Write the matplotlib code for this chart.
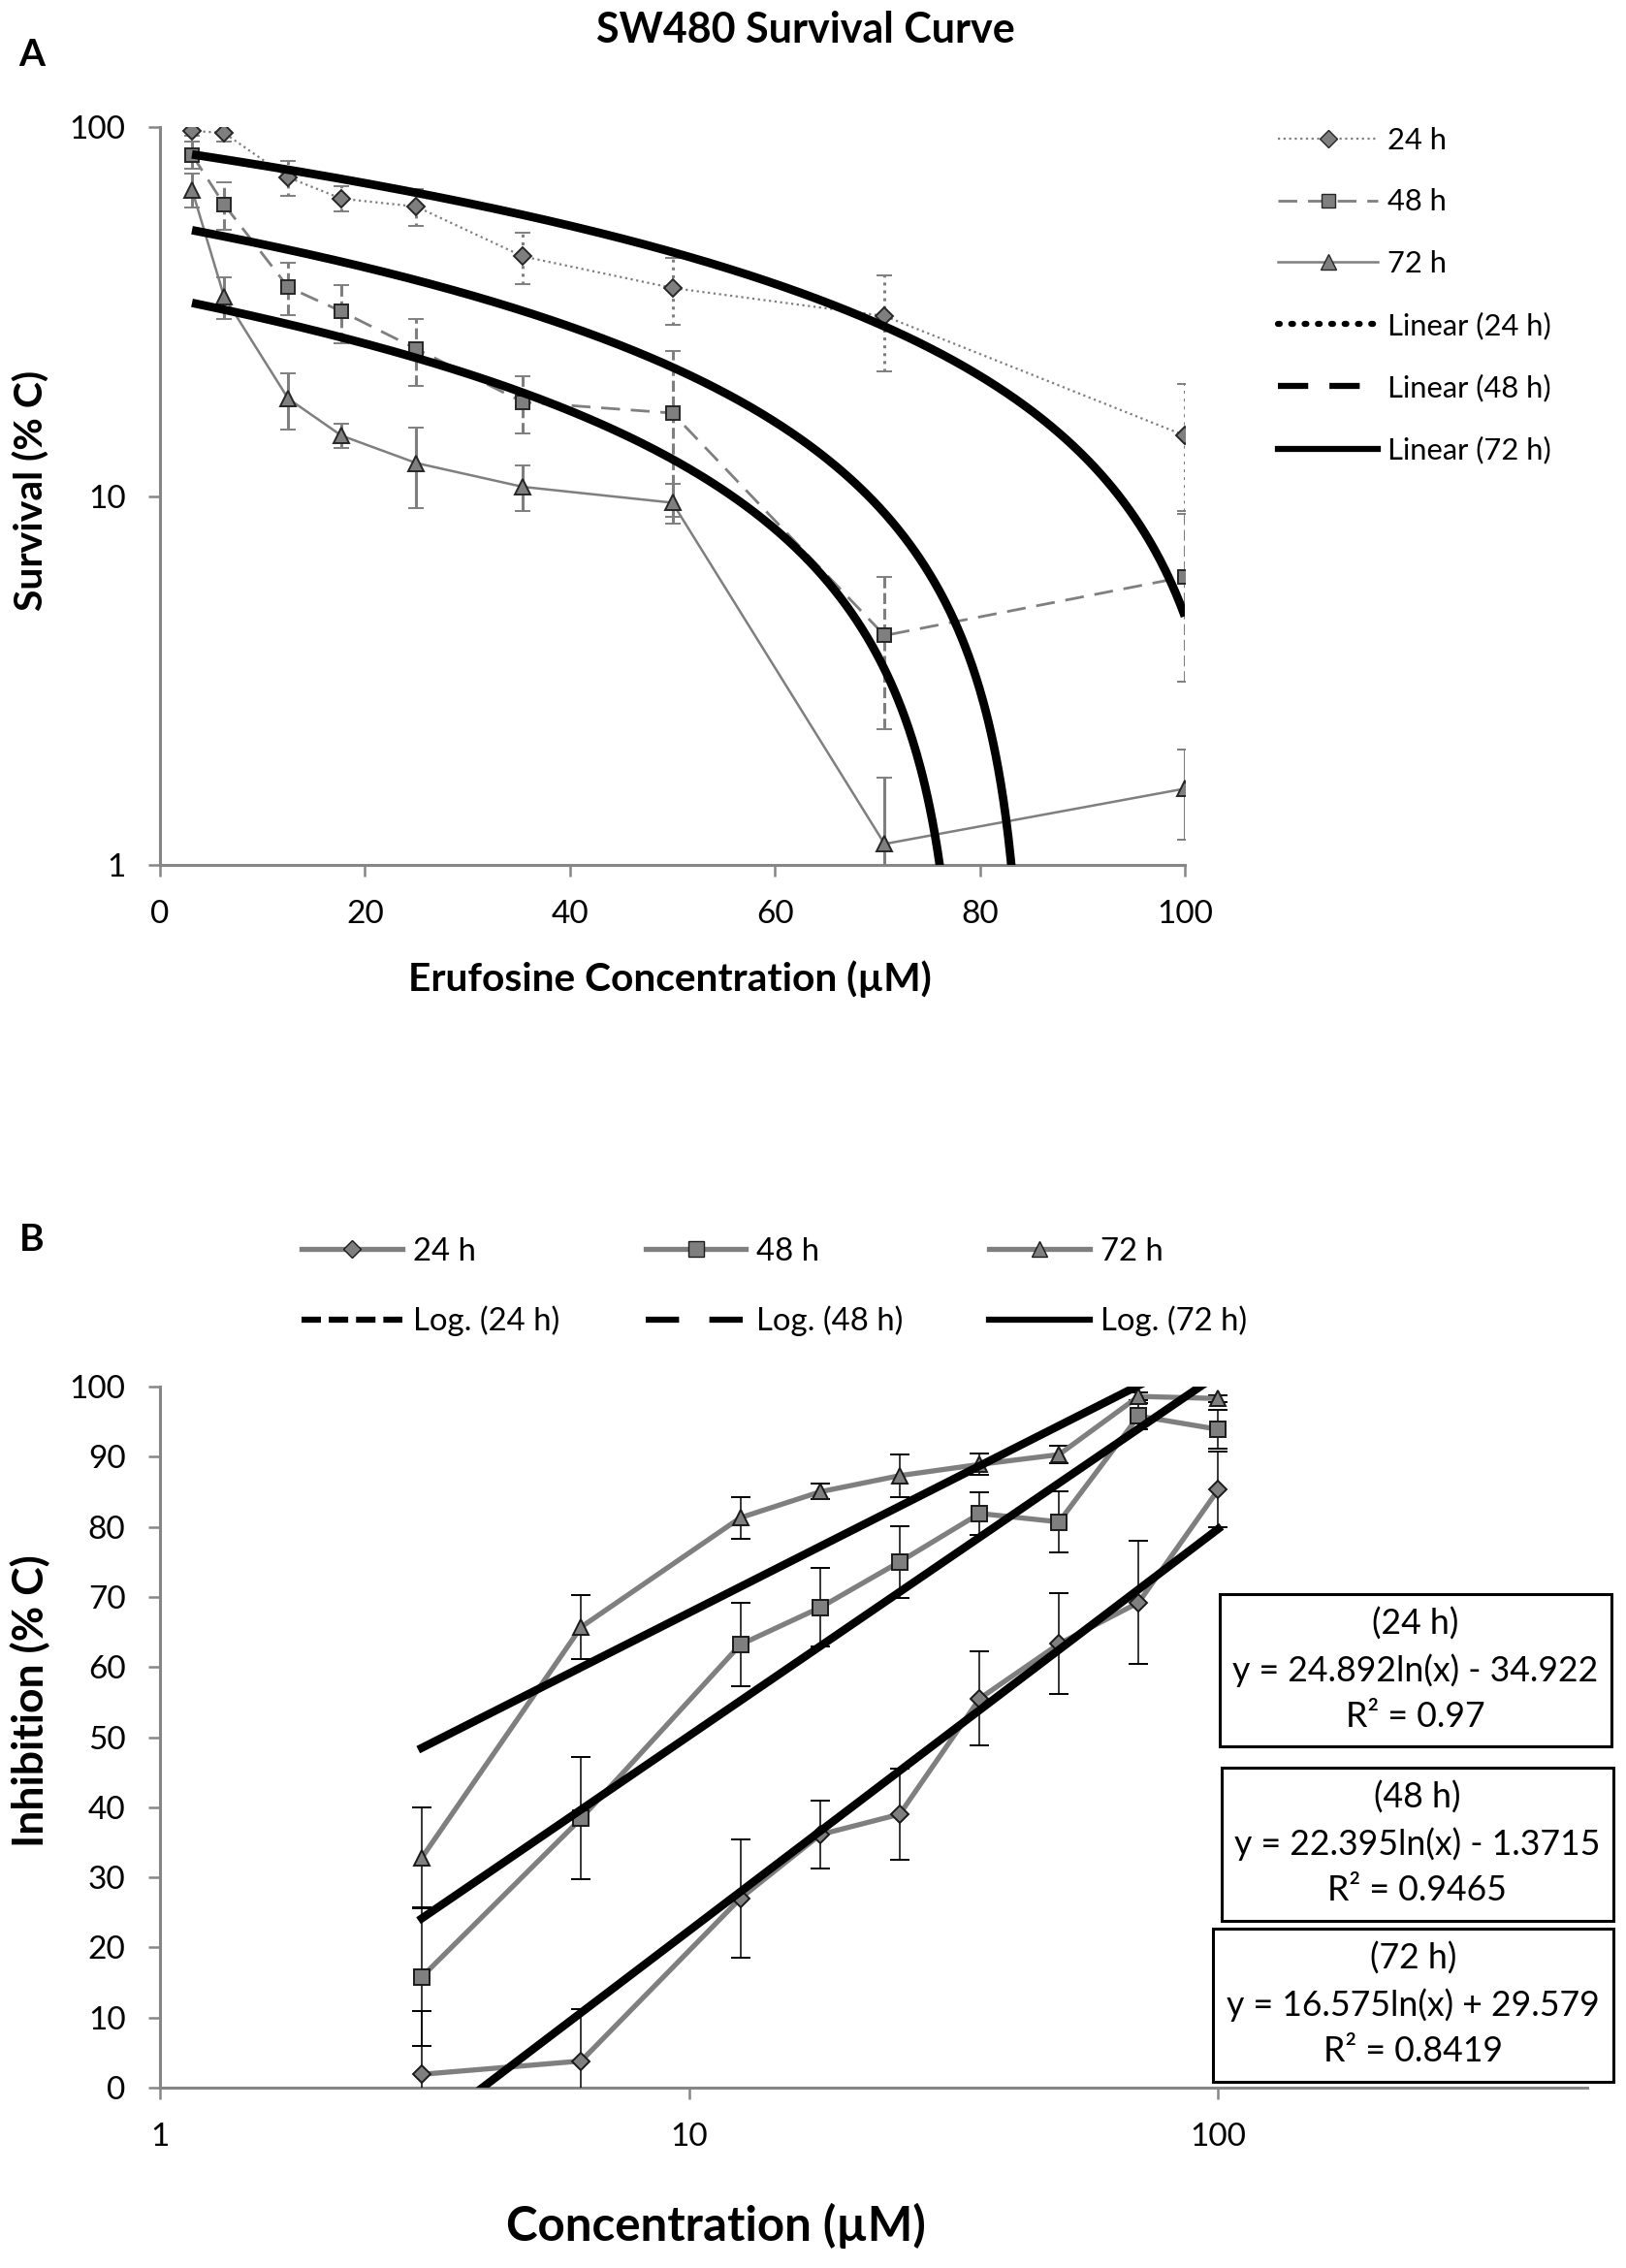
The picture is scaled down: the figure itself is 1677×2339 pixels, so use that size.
import numpy as np
import matplotlib
matplotlib.use("Agg")
import matplotlib.pyplot as plt
from matplotlib.lines import Line2D
from matplotlib.patches import Rectangle
from matplotlib.ticker import FixedLocator, FuncFormatter, NullLocator

plt.rcParams['font.family'] = ['Lato', 'DejaVu Sans']

# concentraciones (uM)
conc = [3.125, 6.25, 12.5, 17.7, 25, 35.4, 50, 70.7, 100]

# panel A - supervivencia (% C)
surv_24 = [97.9, 96.6, 73.2, 64.1, 61.0, 44.7, 36.7, 30.8, 14.6]
surv_24_err = [3.0, 5.0, 8.0, 5.0, 7.0, 7.0, 7.5, 9.0, 5.5]
surv_48 = [84.3, 61.8, 36.9, 31.7, 25.1, 18.0, 16.8, 4.19, 6.04]
surv_48_err = [7.0, 9.0, 6.0, 5.7, 5.2, 3.2, 8.0, 1.85, 2.9]
surv_72 = [67.8, 34.8, 18.4, 14.6, 12.3, 10.6, 9.6, 1.14, 1.61]
surv_72_err = [7.0, 4.5, 3.2, 1.1, 3.0, 1.5, 1.2, 0.58, 0.44]

# panel B - inhibicion (% C)
inh_24 = [1.9, 3.8, 27.0, 36.1, 39.0, 55.5, 63.3, 69.2, 85.3]
inh_24_err = [9.0, 7.4, 8.4, 4.8, 6.5, 6.7, 7.2, 8.8, 5.4]
inh_48 = [15.8, 38.4, 63.2, 68.5, 75.0, 81.9, 80.7, 95.8, 93.9]
inh_48_err = [9.9, 8.7, 6.0, 5.6, 5.1, 3.0, 4.3, 1.9, 2.8]
inh_72 = [32.8, 65.7, 81.3, 85.0, 87.3, 88.9, 90.3, 98.6, 98.3]
inh_72_err = [7.2, 4.6, 3.0, 1.1, 3.0, 1.5, 1.2, 0.6, 0.45]

# ajustes logaritmicos del panel B (del recuadro)
fit_times = ['24 h', '48 h', '72 h']
fit_slope = [24.892, 22.395, 16.575]
fit_icept = [-34.922, -1.3715, 29.579]
fit_r2 = ['0.97', '0.9465', '0.8419']

W, H = 1677, 2339
fig = plt.figure(figsize=(W / 100, H / 100), dpi=100)

def fx(px):
    return px / W

def fy(py):
    return 1 - py / H

def fit_size(txts, target_px):
    # ajusta el tamaño de letra para que el primer texto mida target_px
    fig.canvas.draw()
    bb = txts[0].get_window_extent()
    k = target_px / max(bb.width, bb.height)
    for t in txts:
        t.set_fontsize(t.get_fontsize() * k)

GRAY = '#7f7f7f'
SPINE = '#868686'

def style_axes(ax):
    for s in ['top', 'right']:
        ax.spines[s].set_visible(False)
    for s in ['left', 'bottom']:
        ax.spines[s].set_color(SPINE)
        ax.spines[s].set_linewidth(2.2)
    ax.tick_params(axis='both', which='major', direction='out', length=8.6,
                   width=1.8, color=SPINE, labelsize=24, pad=17)
    ax.tick_params(axis='both', which='minor', length=0)

# ---------------- Panel A ----------------
axA = fig.add_axes([fx(165), fy(892), fx(1222) - fx(165), fy(131.4) - fy(892)])
series_a = [
    (surv_24, surv_24_err, 'D', 9, (0, (1, 1.6)), 1.6, ':'),
    (surv_48, surv_48_err, 's', 10, (0, (7, 4)), 2.0, '--'),
    (surv_72, surv_72_err, '^', 11, '-', 1.8, '-'),
]
for vals, err, mk, ms, ls, lw, els in series_a:
    line, caps, bars = axA.errorbar(conc, vals, yerr=err, marker=mk, markersize=ms,
                                    color=GRAY, mfc=GRAY, mec='#262626', mew=1.4,
                                    linestyle=ls, linewidth=lw, ecolor=GRAY,
                                    elinewidth=2.2, capsize=6, capthick=2.2, zorder=3)
    bars[0].set_linestyle(els)

# lineas de tendencia lineales
xs = np.linspace(conc[0], conc[-1], 800)
for vals in [surv_24, surv_48, surv_72]:
    m, b = np.polyfit(conc, vals, 1)
    ys = m * xs + b
    ys = np.where(ys > 0, ys, 1e-3)
    axA.plot(xs, ys, color='black', linewidth=6.3, solid_capstyle='butt', zorder=4)

axA.set_yscale('log')
axA.set_ylim(1, 100)
axA.set_xlim(0, 100)
axA.xaxis.set_major_locator(FixedLocator([0, 20, 40, 60, 80, 100]))
axA.yaxis.set_major_locator(FixedLocator([1, 10, 100]))
axA.yaxis.set_minor_locator(NullLocator())
axA.yaxis.set_major_formatter(FuncFormatter(lambda v, p: f"{v:g}"))
style_axes(axA)

handles_a = [
    Line2D([], [], color=GRAY, linestyle=(0, (1, 1.6)), lw=1.6, marker='D', ms=9, mfc=GRAY, mec='#262626'),
    Line2D([], [], color=GRAY, linestyle=(0, (7, 4)), lw=2.0, marker='s', ms=10, mfc=GRAY, mec='#262626'),
    Line2D([], [], color=GRAY, linestyle='-', lw=1.8, marker='^', ms=11, mfc=GRAY, mec='#262626'),
    Line2D([], [], color='black', linestyle=(0, (0.3, 1.9)), lw=4.5, dash_capstyle='round'),
    Line2D([], [], color='black', linestyle=(0, (5, 3.5)), lw=4.5),
    Line2D([], [], color='black', linestyle='-', lw=4.5),
]
labels_a = ['24 h', '48 h', '72 h', 'Linear (24 h)', 'Linear (48 h)', 'Linear (72 h)']
fig.legend(handles_a, labels_a, loc='upper left', bbox_to_anchor=(fx(1318), fy(131)),
           frameon=False, fontsize=22.2, handlelength=3.35, handletextpad=0.3,
           labelspacing=1.15, borderpad=0, borderaxespad=0)

t_title = fig.text(fx(831), fy(31.5), 'SW480 Survival Curve', fontsize=27,
                   fontweight='bold', ha='center', va='center')
t_A = fig.text(fx(33), fy(57), 'A', fontsize=28, fontweight='bold', ha='center', va='center')
t_xa = fig.text(fx(691), fy(1010), 'Erufosine Concentration (µM)', fontsize=28,
                fontweight='bold', ha='center', va='center')
t_ya = fig.text(fx(33), fy(506), 'Survival (% C)', fontsize=28, fontweight='bold',
                rotation=90, ha='center', va='center')

# ---------------- Panel B ----------------
axB = fig.add_axes([fx(165), fy(2153), fx(1637) - fx(165), fy(1430) - fy(2153)])
series_b = [
    (inh_24, inh_24_err, 'D', 9),
    (inh_48, inh_48_err, 's', 11),
    (inh_72, inh_72_err, '^', 11),
]
for vals, err, mk, ms in series_b:
    axB.errorbar(conc, vals, yerr=err, marker=mk, markersize=ms, color=GRAY,
                 mfc=GRAY, mec='#1a1a1a', mew=1.4, linewidth=3.8, ecolor='black',
                 elinewidth=1.1, capsize=7, capthick=1.1, zorder=3)

xl = np.logspace(np.log10(conc[0]), np.log10(conc[-1]), 400)
for a, b in zip(fit_slope, fit_icept):
    axB.plot(xl, a * np.log(xl) + b, color='black', linewidth=6, zorder=4)

axB.set_xscale('log')
axB.set_xlim(1, 498)
axB.set_ylim(0, 100)
axB.xaxis.set_major_locator(FixedLocator([1, 10, 100]))
axB.xaxis.set_minor_locator(NullLocator())
axB.xaxis.set_major_formatter(FuncFormatter(lambda v, p: f"{v:g}"))
axB.yaxis.set_major_locator(FixedLocator(np.arange(0, 101, 10)))
style_axes(axB)

handles_b = [
    Line2D([], [], color=GRAY, lw=3.8, marker='D', ms=9, mfc=GRAY, mec='#1a1a1a'),
    Line2D([], [], color='black', lw=4.5, linestyle=(0, (3.2, 1.3))),
    Line2D([], [], color=GRAY, lw=3.8, marker='s', ms=11, mfc=GRAY, mec='#1a1a1a'),
    Line2D([], [], color='black', lw=4.5, linestyle=(0, (5.5, 5))),
    Line2D([], [], color=GRAY, lw=3.8, marker='^', ms=11, mfc=GRAY, mec='#1a1a1a'),
    Line2D([], [], color='black', lw=4.5, linestyle='-'),
]
labels_b = ['24 h', 'Log. (24 h)', '48 h', 'Log. (48 h)', '72 h', 'Log. (72 h)']
fig.legend(handles_b, labels_b, loc='upper left', bbox_to_anchor=(fx(311), fy(1276)),
           ncol=3, frameon=False, fontsize=23.7, handlelength=3.15, handletextpad=0.33,
           labelspacing=1.23, columnspacing=2.7, borderpad=0, borderaxespad=0)

t_B = fig.text(fx(33), fy(1279), 'B', fontsize=28, fontweight='bold', ha='center', va='center')
t_xb = fig.text(fx(738), fy(2295), 'Concentration (µM)', fontsize=34,
                fontweight='bold', ha='center', va='center')
t_yb = fig.text(fx(31), fy(1754), 'Inhibition (% C)', fontsize=34, fontweight='bold',
                rotation=90, ha='center', va='center')

# recuadros con las ecuaciones
boxes = [(1257.5, 1643.8, 1662, 1801.4), (1259.6, 1822.9, 1663.8, 1981),
         (1251, 1988.7, 1663.8, 2146.8)]
eq_texts = []
for (x0, y0, x1, y1), t, a, b, r2 in zip(boxes, fit_times, fit_slope, fit_icept, fit_r2):
    fig.add_artist(Rectangle((fx(x0), fy(y1)), fx(x1) - fx(x0), fy(y0) - fy(y1),
                             transform=fig.transFigure, fill=True, facecolor='white',
                             edgecolor='black', linewidth=2.2, zorder=5))
    sign = '-' if b < 0 else '+'
    lines = [f"y = {a}ln(x) {sign} {abs(b)}", f"({t})", f"R² = {r2}"]
    offs = [0, -1, 1]
    cx = (x0 + x1) / 2
    cy = (y0 + y1) / 2
    for s, k in zip(lines, offs):
        eq_texts.append(fig.text(fx(cx), fy(cy + k * 48), s, fontsize=25, ha='center',
                                 va='center', zorder=6))

# tamaños de texto segun el ancho medido en la figura original
fit_size([t_title], 431)
fit_size([t_A, t_B], 35)
fit_size([t_xa], 539)
fit_size([t_ya], 248)
fit_size([t_xb], 433)
fit_size([t_yb], 302)
fit_size(eq_texts, 377)

fig.savefig('out.png', dpi=100, facecolor='white')
